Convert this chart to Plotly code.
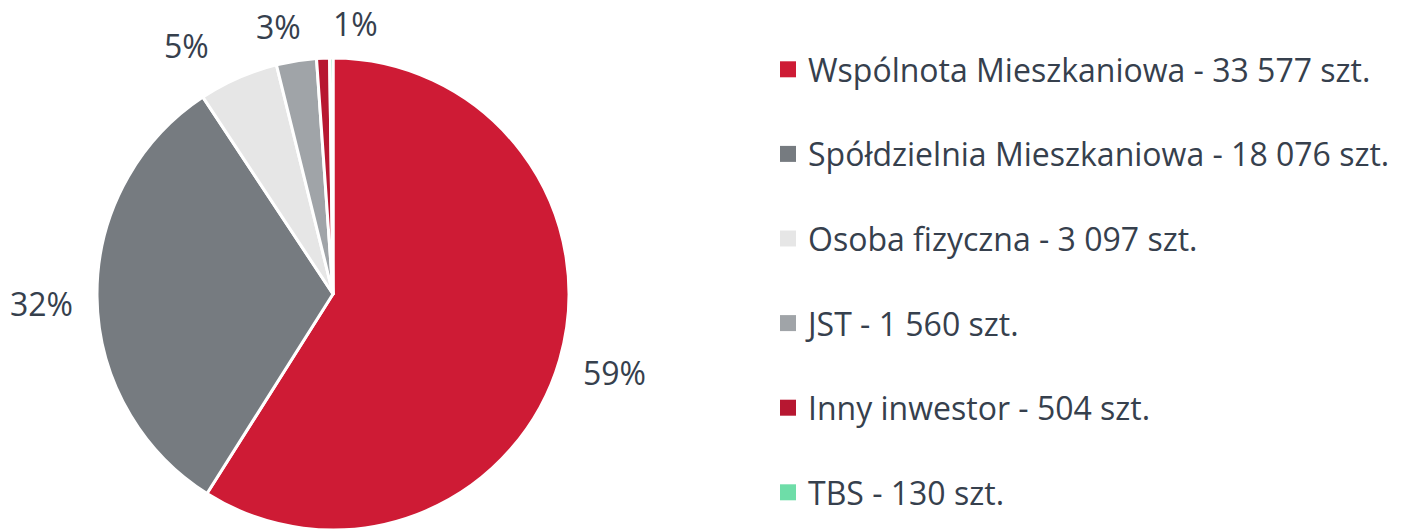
import math
import plotly.graph_objects as go

categories = ["Wspólnota Mieszkaniowa", "Spółdzielnia Mieszkaniowa", "Osoba fizyczna",
              "JST", "Inny inwestor", "TBS"]
values = [33577, 18076, 3097, 1560, 504, 130]
colors = ["#CE1B35", "#767B80", "#E6E6E6", "#A0A4A8", "#B71731", "#6EDDA8"]

W, H = 1415, 530
TEXT = "#36404D"
FONT = "Open Sans"
PCT_SIZE = 32
LEG_SIZE = 32

total = sum(values)
pct_text = []
for v in values:
    p = round(v / total * 100)
    pct_text.append(f"{p}%" if p > 0 else "")

def fmt(n):
    return f"{n:,}".replace(",", " ")

# pie geometry (pixels)
R = 236
CX = 333
CY = H - R
fig = go.Figure()
fig.add_trace(go.Pie(
    labels=categories, values=values, sort=False, direction="clockwise", rotation=0,
    marker=dict(colors=colors, line=dict(color="white", width=3)),
    textinfo="none", automargin=False,
    showlegend=False, hoverinfo="label+value+percent",
    domain=dict(x=[(CX - R) / W, (CX + R) / W], y=[0, 2 * R / H]),
))

# percentage labels placed outside each slice, from the slice mid-angles
gap = 22
cum = 0.0
placed = []  # (left, right) extents of top labels for simple dodge
for v, t in zip(values, pct_text):
    mid = (cum + v / 2) / total * 2 * math.pi
    cum += v
    if not t:
        continue
    s, c = math.sin(mid), math.cos(mid)
    px = CX + (R + gap) * s
    py = CY - (R + gap) * c
    xa = "left" if s > 0.3 else ("right" if s < -0.3 else "center")
    ya = "bottom" if c > 0.3 else ("top" if c < -0.3 else "middle")
    wt = 0.58 * PCT_SIZE * len(t)
    if ya == "middle":
        py += 7
    if ya == "bottom":
        py += 11
        if xa == "center":
            left = px - wt / 2 - 20
        elif xa == "left":
            left = px
        else:
            left = px - wt - 30
        for (l0, r0) in placed:
            if left < r0 + 40 and left + wt > l0:
                left = r0 + 40
        placed.append((left, left + wt))
        px = left
        xa = "left"
    fig.add_annotation(x=px / W, y=1 - py / H, xref="paper", yref="paper",
                       text=t, showarrow=False, xanchor=xa, yanchor=ya,
                       font=dict(family=FONT, size=PCT_SIZE, color=TEXT))

for i, (c, v, col) in enumerate(zip(categories, values, colors)):
    fig.add_trace(go.Scatter(
        x=[None], y=[None], mode="markers", name=f"{c} - {fmt(v)} szt.",
        marker=dict(symbol="square", size=16, color=col),
        legendgroup=f"g{i}", showlegend=True,
    ))

fig.update_layout(
    width=W, height=H,
    margin=dict(l=0, r=0, t=0, b=0, autoexpand=False),
    paper_bgcolor="white", plot_bgcolor="white",
    xaxis=dict(visible=False), yaxis=dict(visible=False),
    legend=dict(x=768 / W, xanchor="left", y=1 - 42 / H, yanchor="top",
                font=dict(family=FONT, size=LEG_SIZE, color=TEXT),
                tracegroupgap=40, itemsizing="trace", bgcolor="rgba(0,0,0,0)"),
    font=dict(family=FONT, color=TEXT),
)

fig.write_html("out.html")
